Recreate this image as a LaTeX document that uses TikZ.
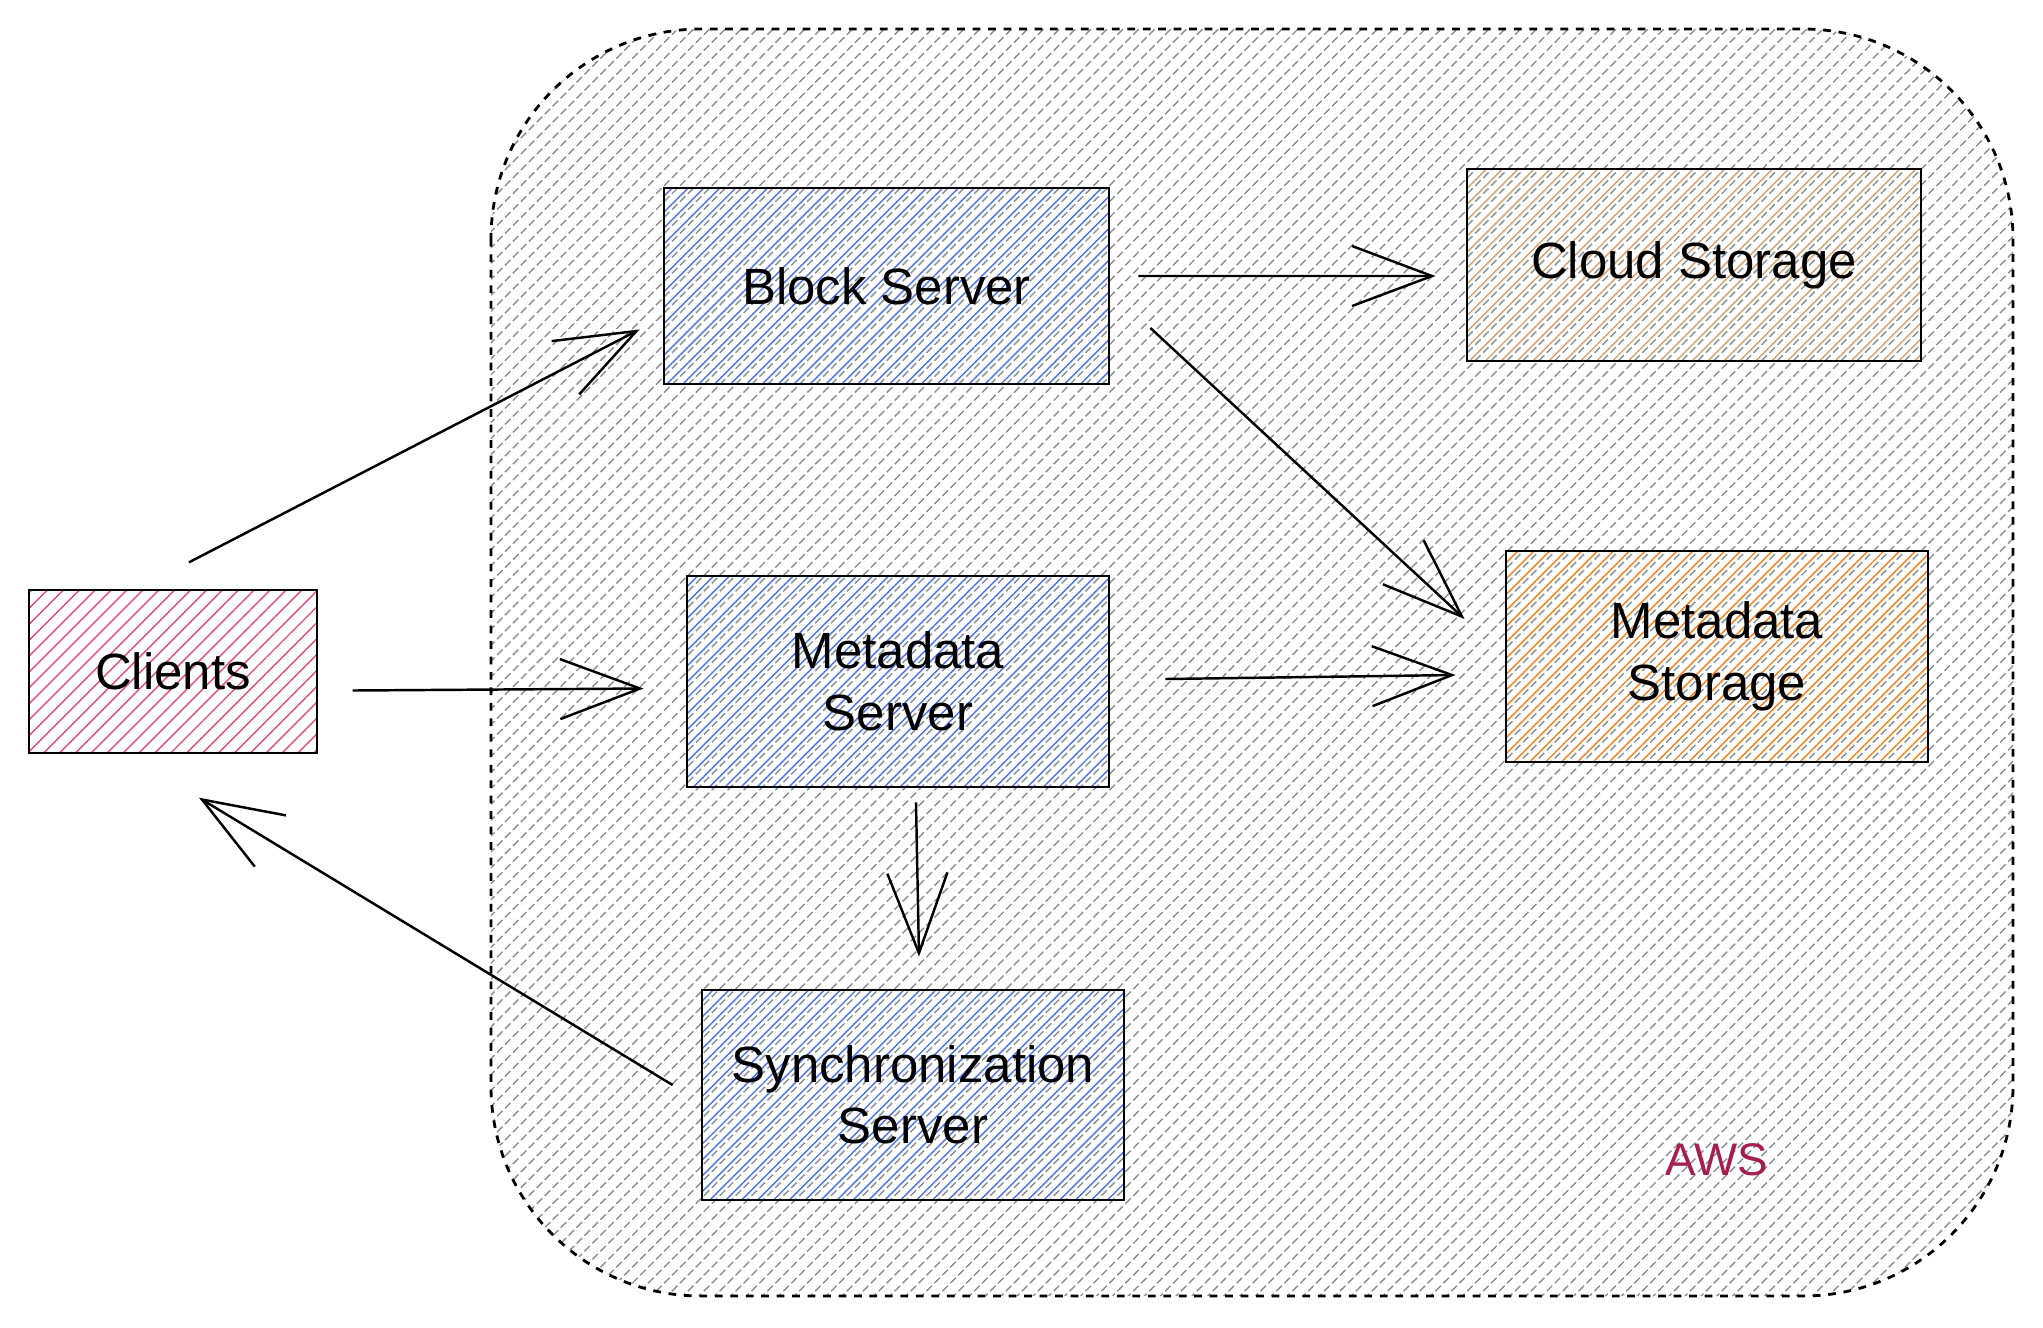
\documentclass[tikz,border=0pt]{standalone}
\usepackage{fontspec}
\setmainfont{Liberation Sans}
\usetikzlibrary{arrows.meta,patterns.meta}
\definecolor{hatchgray}{HTML}{868E96}
\definecolor{clientpink}{HTML}{E64980}
\definecolor{serverblue}{HTML}{4C6EF5}
\definecolor{storeorange}{HTML}{FD7E14}
\definecolor{cloudtan}{RGB}{214,160,110}
\definecolor{awsred}{HTML}{A61E4D}
\begin{document}
\begin{tikzpicture}[
  box/.style={draw=black, line width=0.8pt, inner sep=0pt, align=center, font=\fontsize{14.5}{17.5}\selectfont},
  hatch/.style={pattern={Lines[angle=45,distance=3.2pt,line width=0.4pt,yshift=1.6pt]}, pattern color=#1},
  arr/.style={-{Straight Barb[length=0.8cm,width=0.6cm]}, line width=0.7pt}
]
\useasboundingbox (0,0) rectangle (20.43,-13.27);
% AWS region
\draw[line width=0.8pt, dash pattern=on 2.2pt off 2.2pt, rounded corners=2.1cm,
  pattern={Lines[angle=45,distance=3.2pt,line width=0.4pt]}, pattern color=hatchgray]
  (4.91,-0.29) rectangle (20.13,-12.96);
\node[text=awsred, font=\fontsize{13}{15}\selectfont] (aws) at (17.17,-11.6) {AWS};
% boxes
\node[box, hatch=clientpink, minimum width=2.88cm, minimum height=1.63cm] (clients) at (1.73,-6.715) {Clients};
\node[box, hatch=serverblue, minimum width=4.45cm, minimum height=1.96cm] (block) at (8.865,-2.86) {Block Server};
\node[box, hatch=cloudtan, minimum width=4.54cm, minimum height=1.92cm] (cloud) at (16.94,-2.65) {Cloud Storage};
\node[box, hatch=serverblue, minimum width=4.22cm, minimum height=2.11cm] (mserver) at (8.98,-6.815) {Metadata\\Server};
\node[box, hatch=storeorange, minimum width=4.22cm, minimum height=2.11cm] (mstorage) at (17.17,-6.565) {Metadata\\Storage};
\node[box, hatch=serverblue, minimum width=4.22cm, minimum height=2.10cm] (sync) at (9.13,-10.95) {Synchronization\\Server};
% arrows
\draw[arr] ([xshift=0.16cm,yshift=0.27cm]clients.north) -- ([xshift=-0.23cm,yshift=0.56cm]block.south west);
\draw[arr] ([xshift=0.35cm,yshift=-0.19cm]clients.east) -- ([xshift=-0.42cm,yshift=-0.07cm]mserver.west);
\draw[arr] ([xshift=-0.28cm,yshift=0.10cm]sync.west) -- ([xshift=0.26cm,yshift=-0.44cm]clients.south);
\draw[arr] ([xshift=0.28cm,yshift=0.10cm]block.east) -- ([xshift=-0.30cm,yshift=-0.11cm]cloud.west);
\draw[arr] ([xshift=0.40cm,yshift=-0.42cm]block.east) -- ([xshift=-0.40cm,yshift=0.375cm]mstorage.west);
\draw[arr] ([xshift=0.55cm,yshift=0.025cm]mserver.east) -- ([xshift=-0.49cm,yshift=-0.185cm]mstorage.west);
\draw[arr] ([xshift=0.18cm,yshift=-0.14cm]mserver.south) -- ([xshift=0.06cm,yshift=0.32cm]sync.north);
\end{tikzpicture}
\end{document}
